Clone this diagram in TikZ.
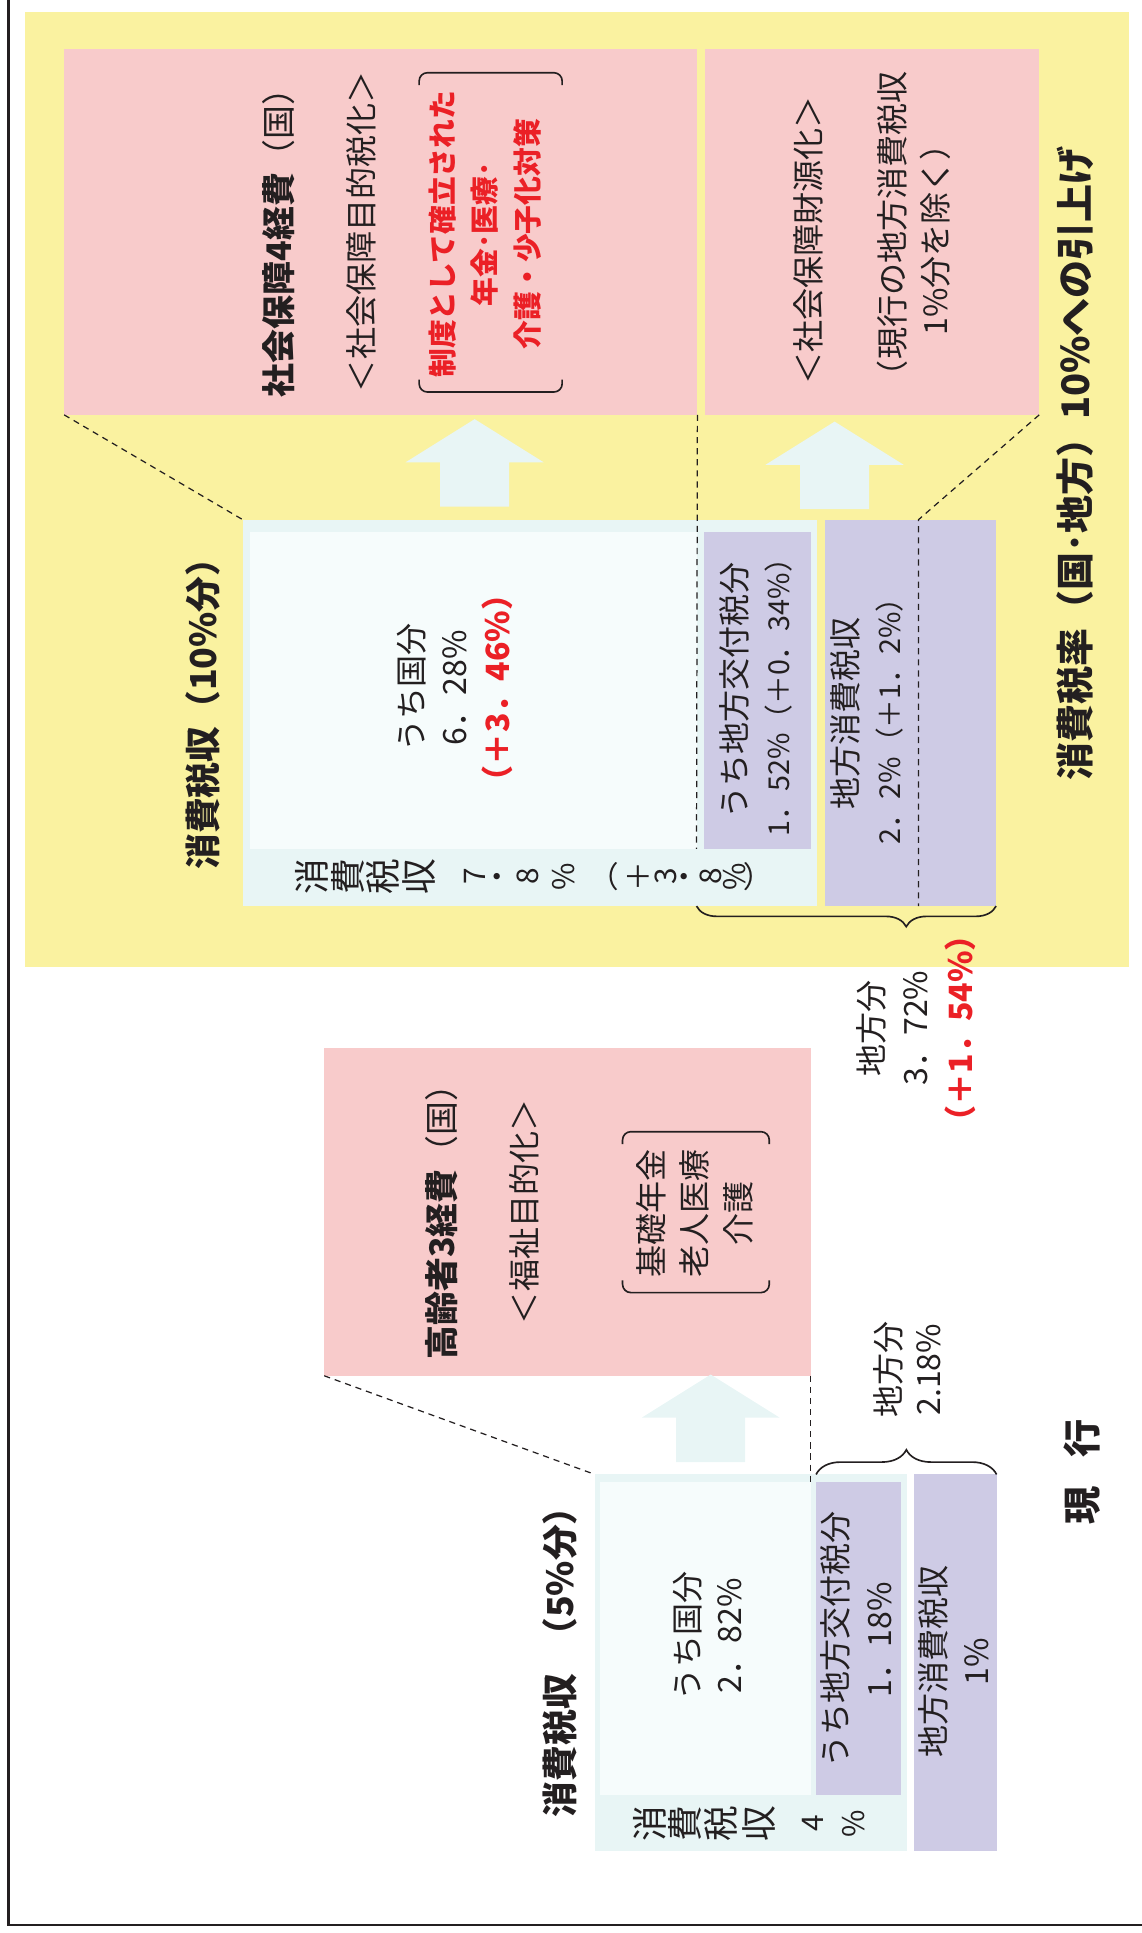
\documentclass[tikz,border=0pt]{standalone}
\usepackage{fontspec}
\setmainfont{Noto Sans CJK JP}
\usetikzlibrary{fit,decorations.pathreplacing}

\definecolor{hatch}{RGB}{250,242,160}
\definecolor{pinkbg}{RGB}{248,203,203}
\definecolor{paleblue}{RGB}{232,245,245}
\definecolor{whiteblue}{RGB}{246,252,252}
\definecolor{lilac}{RGB}{206,203,229}
\definecolor{alertred}{RGB}{235,32,38}
\definecolor{ink}{RGB}{35,31,32}

\newcommand\fsz[2]{\fontsize{#1}{#2}\selectfont}

\begin{document}
\begin{tikzpicture}[x=0.6pt, y=-0.6pt,
    panel/.style={inner sep=0pt, outer sep=0pt},
    pinkbox/.style={panel, fill=pinkbg},
    bluebox/.style={panel, fill=paleblue},
    whitebox/.style={panel, fill=whiteblue},
    lilacbox/.style={panel, fill=lilac},
    lbl/.style={rotate=90, inner sep=0pt, align=center, text=ink, font=\fsz{15.6}{21}},
    bighead/.style={lbl, font=\fsz{16.5}{21}\bfseries},
    heading/.style={lbl, font=\fsz{17.4}{21}\bfseries},
    redtxt/.style={text=alertred, font=\fsz{14}{20.7}\bfseries},
    tate/.style={rotate=90, inner sep=0pt, text=ink},
    guide/.style={draw=ink, dash pattern=on 3pt off 2.4pt, line width=0.6pt},
    brk/.style={draw=ink, line width=0.8pt, rounded corners=4pt},
    curly/.style={draw=ink, line width=0.8pt, decorate, decoration={brace, amplitude=#1}},
    upfill/.style={fill=paleblue}]

  \useasboundingbox (0,0) rectangle (926,1568);

  % Frame
  \draw[ink, line width=1.2pt] (6.8,0) -- (6.8,1561.7) -- (926,1561.7);

  % Raise to 10%
  \node[panel, fill=hatch, fit={(20,10) (916,784)}] (zone) {};
  \node[pinkbox, fit={(52,40) (565.7,336.5)}] (socA) {};
  \node[pinkbox, fit={(571.7,40) (843,336.5)}] (socB) {};
  \node[bluebox, fit={(197,421.6) (663,735)}] (newtax) {};
  \node[whitebox, fit={(203,431.5) (565,688.5)}] (newnat) {};
  \node[lilacbox, fit={(571,431.5) (658,688.5)}] (newkofu) {};
  \node[lilacbox, fit={(669,421.6) (808,735)}] (newloc) {};

  % Current
  \node[pinkbox, fit={(263,850.5) (657.5,1116)}] (eld) {};
  \node[bluebox, fit={(482.5,1196) (735.5,1501.7)}] (oldtax) {};
  \node[whitebox, fit={(487,1202) (657.5,1456)}] (oldnat) {};
  \node[lilacbox, fit={(662,1202) (730.5,1456)}] (oldkofu) {};
  \node[lilacbox, fit={(741,1196) (808.4,1501.7)}] (oldloc) {};

  % Block arrows
  \foreach \ax/\ay in {385/340, 677/342, 576.5/1115}
    \fill[upfill] (\ax-56,\ay+35) -- (\ax,\ay) -- (\ax+56,\ay+35) -- (\ax+28,\ay+35)
      -- (\ax+28,\ay+71) -- (\ax-28,\ay+71) -- (\ax-28,\ay+35) -- cycle;

  % Dashed guides
  \coordinate (cutA) at (745,421.6);
  \draw[guide] (socA.south west) -- (newtax.north west);
  \draw[guide] (socA.south east) -- (newnat.south east);
  \draw[guide] (socB.south east) -- (cutA) -- (cutA |- newloc.south);
  \draw[guide] (eld.south west) -- (oldtax.north west);
  \draw[guide] (eld.south east) -- (oldnat.north east);

  % Braces
  \draw[curly=10pt, decoration={aspect=0.3}] (newloc.south east) -- (newnat.east |- newtax.south);
  \draw[curly=12pt] (oldkofu.west |- oldloc.north) -- (oldloc.north east);

  % Texts, upper part
  \node[bighead] (tA1) at (226,190) {社会保障4経費{\mdseries （国）}};
  \node[lbl] (tA2) at (293,188) {＜社会保障目的税化＞};
  \node[lbl, redtxt] (tA3) at (393.5,190) {制度として確立された\\年金･医療･\\介護・少子化対策};
  \draw[brk] (340,69) -- (340,59) -- (456,59) -- (456,69);
  \draw[brk] (340,308) -- (340,318) -- (456,318) -- (456,308);
  \node[lbl] (tB1) at (656,195) {＜社会保障財源化＞};
  \node[lbl] (tB2) at (741,188) {（現行の地方消費税収\\1\%分を除く）};
  \node[heading, font=\fsz{18.5}{21}\bfseries] (tRaise) at (872,376) {消費税率（国･地方）10\%への引上げ};
  \node[heading] (tNew) at (165,572) {消費税収（10\%分）};
  \node[lbl] (tNat) at (369,558) {うち国分\\6．28\%\\{\color{alertred}\bfseries （＋3．46\%）}};
  \node[lbl] (tKofu) at (613,560) {うち地方交付税分\\{\fsz{14}{21}1．52\%（＋0．34\%）}};
  \node[lbl] (tLoc) at (703,579) {地方消費税収\\{\fsz{14}{21}2．2\%（＋1．2\%）}};
  \node[lbl, font=\fsz{15.6}{21.6}] (tLocal) at (743,834) {地方分\\3．72\%\\{\color{alertred}\bfseries （＋1．54\%）}};
  \foreach \ch/\cx/\fs [count=\i] in {消/253/17.4, 費/282/17.4, 税/311/17.4, 収/340/17.4,
      7/385/14.5, ・/407/14.5, 8/428/14.5, \%/457/14.5, ︵/498/14.5, ＋/518/14.5,
      3/540/14.5, ・/558/14.5, 8/577/14.5, \%/596/14.5, ︶/614/14.5}
    \node[tate, font=\fsz{\fs}{\fs}] (sa\i) at (\cx,711) {\ch};

  % Texts, lower part
  \node[bighead] (tE1) at (358.5,984.5) {高齢者3経費{\mdseries （国）}};
  \node[lbl] (tE2) at (425.5,983) {＜福祉目的化＞};
  \node[lbl] (tE3) at (563.5,984) {基礎年金\\老人医療\\介護};
  \draw[brk] (505,928) -- (505,918) -- (624,918) -- (624,928);
  \draw[brk] (505,1038.5) -- (505,1048.5) -- (624,1048.5) -- (624,1038.5);
  \node[lbl, font=\fsz{15.6}{19.8}] (tLocal2) at (736,1111) {地方分\\2.18\%};
  \node[heading] (tOld) at (454,1341) {消費税収\hspace{10pt}（5\%分）};
  \node[lbl, font=\fsz{15.6}{20.4}] (tNat2) at (574,1327) {うち国分\\2．82\%};
  \node[lbl] (tKofu2) at (694.5,1330) {うち地方交付税分\\1．18\%};
  \node[lbl] (tLoc2) at (773.5,1348) {地方消費税収\\1\%};
  \foreach \ch/\cx/\fs [count=\i] in {消/527/17.4, 費/556/17.4, 税/585/17.4, 収/616/17.4,
      4/659/14.5, \%/692/14.5}
    \node[tate, font=\fsz{\fs}{\fs}] (sb\i) at (\cx,1479) {\ch};
  \node[heading, font=\fsz{18.6}{21}\bfseries] (tNow) at (878,1194) {現\hspace{14pt}行};
\end{tikzpicture}
\end{document}
